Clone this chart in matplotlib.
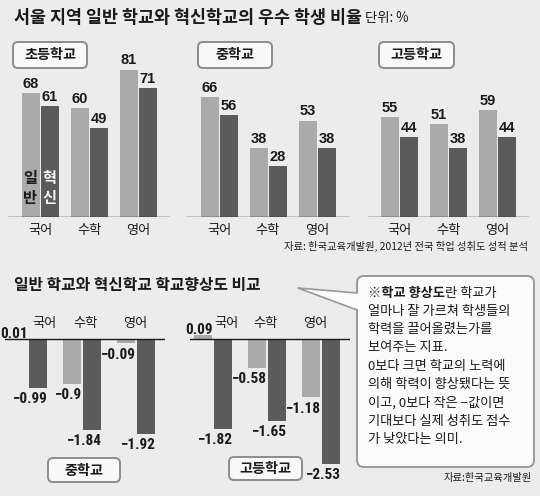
import matplotlib
matplotlib.use("Agg")
import matplotlib.pyplot as plt
from matplotlib.patches import FancyBboxPatch, Polygon
import numpy as np

plt.rcParams['font.family'] = ['Noto Sans CJK KR', 'DejaVu Sans']

# 우수 학생 비율 (단위: %)
subjects = ['국어', '수학', '영어']
elem_general = [68, 60, 81]
elem_innov = [61, 49, 71]
mid_general = [66, 38, 53]
mid_innov = [56, 28, 38]
high_general = [55, 51, 59]
high_innov = [44, 38, 44]

# 학교향상도
mid_gain_general = [0.01, -0.9, -0.09]
mid_gain_innov = [-0.99, -1.84, -1.92]
high_gain_general = [0.09, -0.58, -1.18]
high_gain_innov = [-1.82, -1.65, -2.53]

note_lines = [
    "얼마나 잘 가르쳐 학생들의",
    "학력을 끌어올렸는가를",
    "보여주는 지표.",
    "0보다 크면 학교의 노력에",
    "의해 학력이 향상됐다는 뜻",
    "이고, 0보다 작은 −값이면",
    "기대보다 실제 성취도 점수",
    "가 낮았다는 의미.",
]

BG = '#ececec'
LIGHT = '#aaaaaa'
DARK = '#5b5b5b'
INK = '#1a1a1a'
NUM_FONT = ['Liberation Sans', 'DejaVu Sans']
NARROW_FONT = ['Roboto Condensed', 'PT Sans Narrow', 'Liberation Sans', 'DejaVu Sans']

W, H = 540, 496
fig = plt.figure(figsize=(W / 100, H / 100), dpi=100, facecolor=BG)


def px_axes(x0, y0, x1, y1):
    ax = fig.add_axes([x0 / W, 1 - y1 / H, (x1 - x0) / W, (y1 - y0) / H])
    ax.set_axis_off()
    return ax


def fmt(v):
    return f"{v:g}".replace('-', '−')


def top_panel(cx, general, innov):
    unit, scale, base, top = 49, 1.82, 217, 86
    ax = px_axes(cx - 0.65 * unit, base - top * scale, cx + 2.65 * unit, base)
    ax.set_xlim(-0.65, 2.65)
    ax.set_ylim(0, top)
    x = np.arange(len(subjects))
    w, off = 18 / unit, 9.5 / unit
    ax.bar(x - off, general, w, color=LIGHT)
    ax.bar(x + off, innov, w, color=DARK)
    ax.axhline(0, color=INK, lw=1)
    for xi, g, n in zip(x, general, innov):
        for xx, v in ((xi - off, g), (xi + off, n)):
            ax.annotate(fmt(v), (xx, v), xytext=(0, 1.5), textcoords='offset points',
                        ha='center', va='bottom', fontsize=10.5, fontweight='bold',
                        family=NUM_FONT, color=INK)
        ax.annotate(subjects[xi], (xi, 0), xytext=(0, -9.5), textcoords='offset points',
                    ha='center', va='center', fontsize=9.5, color=INK)
    return ax, off


def bottom_panel(cx, general, innov, cat_x):
    unit, scale, base = 54, 49.5, 339
    ymin, ymax = -2.75, 0.3
    ax = px_axes(cx - 0.42 * unit, base - ymax * scale, cx + 2.54 * unit, base - ymin * scale)
    ax.set_xlim(-0.42, 2.54)
    ax.set_ylim(ymin, ymax)
    x = np.arange(len(subjects))
    w, off = 18 / unit, 10 / unit
    ax.bar(x - off, general, w, color=LIGHT)
    ax.bar(x + off, innov, w, color=DARK)
    ax.axhline(0, color=INK, lw=1)
    for xi, g, n in zip(x, general, innov):
        for xx, v in ((xi - off, g), (xi + off, n)):
            if v >= 0:
                ax.annotate(fmt(v), (xx + w / 2, v), xytext=(0.5, -1.5), textcoords='offset points',
                            ha='right', va='bottom', fontsize=11, fontweight='bold',
                            family=NARROW_FONT, color=INK)
            else:
                ax.annotate(fmt(v), (xx + w / 2, v), xytext=(0.5, -3), textcoords='offset points',
                            ha='right', va='top', fontsize=11, fontweight='bold',
                            family=NARROW_FONT, color=INK)
        ax.annotate(subjects[xi], (cat_x[xi], 0), xytext=(0, 11), textcoords='offset points',
                    ha='center', va='center', fontsize=9.5, color=INK)
    return ax


ax_e, off_e = top_panel(40, elem_general, elem_innov)
top_panel(219, mid_general, mid_innov)
top_panel(399.5, high_general, high_innov)

# legend text inside the first pair of bars
ax_e.text(-off_e, 16, "일\n반", ha='center', va='center', fontsize=11, fontweight='bold',
          color=INK, linespacing=1.25)
ax_e.text(off_e, 16, "혁\n신", ha='center', va='center', fontsize=11, fontweight='bold',
          color='#f2f2f2', linespacing=1.25)

bottom_panel(28, mid_gain_general, mid_gain_innov, [0.31, 1.07, 1.98])
bottom_panel(213, high_gain_general, high_gain_innov, [0.25, 0.98, 1.89])

# overlay for titles, boxes and notes (pixel coordinates)
ov = fig.add_axes([0, 0, 1, 1])
ov.set_xlim(0, W)
ov.set_ylim(H, 0)
ov.set_axis_off()
ov.set_zorder(10)
ov.patch.set_visible(False)

t1 = ov.text(14, 18, "서울 지역 일반 학교와 혁신학교의 우수 학생 비율", ha='left', va='center',
             fontsize=12.5, fontweight='bold', color=INK)
ov.annotate(" 단위: %", xy=(1, 0.5), xycoords=t1, ha='left', va='center',
            fontsize=9.6, color=INK)

ov.text(14, 285, "일반 학교와 혁신학교 학교향상도 비교", ha='left', va='center',
        fontsize=11.4, fontweight='bold', color=INK)


def label_box(x0, y0, x1, y1, text):
    ov.add_patch(FancyBboxPatch((x0, y0), x1 - x0, y1 - y0,
                                boxstyle='round,pad=0,rounding_size=5',
                                fc='#f8f8f8', ec='#8c8c8c', lw=1.4))
    ov.text((x0 + x1) / 2, (y0 + y1) / 2 + 0.5, text, ha='center', va='center',
            fontsize=10.2, fontweight='bold', color=INK)


label_box(13, 42, 87, 68, "초등학교")
label_box(198, 42, 272, 68, "중학교")
label_box(379, 42, 454, 68, "고등학교")
label_box(48, 458, 120, 482, "중학교")
label_box(229, 457, 302, 480, "고등학교")

ov.text(528, 246, "자료: 한국교육개발원, 2012년 전국 학업 성취도 성적 분석", ha='right',
        va='center', fontsize=7.4, color=INK)
ov.text(532, 478, "자료:한국교육개발원", ha='right', va='center', fontsize=7.4, color=INK)

# callout box with pointer
ov.add_patch(FancyBboxPatch((357, 276), 177, 191, boxstyle='round,pad=0,rounding_size=7',
                            fc='#fbfbfb', ec='#999999', lw=1.4, zorder=1))
ov.add_patch(Polygon([(360, 293), (298, 288), (360, 310)], closed=True,
                     fc='#fbfbfb', ec='none', zorder=2))
ov.plot([357, 298, 357], [293, 288, 310], color='#999999', lw=1.2, zorder=3)

tb = ov.text(368, 293, "※학교 향상도", ha='left', va='center', fontsize=9.5,
             fontweight='bold', color=INK, zorder=4)
ov.annotate("란 학교가", xy=(1, 0.5), xycoords=tb, ha='left', va='center',
            fontsize=9.5, color=INK, zorder=4)
for i, line in enumerate(note_lines):
    ov.text(368, 293 + (i + 1) * 18.3, line, ha='left', va='center', fontsize=9.5,
            color=INK, zorder=4)

plt.savefig("out.png", dpi=100, facecolor=BG)
